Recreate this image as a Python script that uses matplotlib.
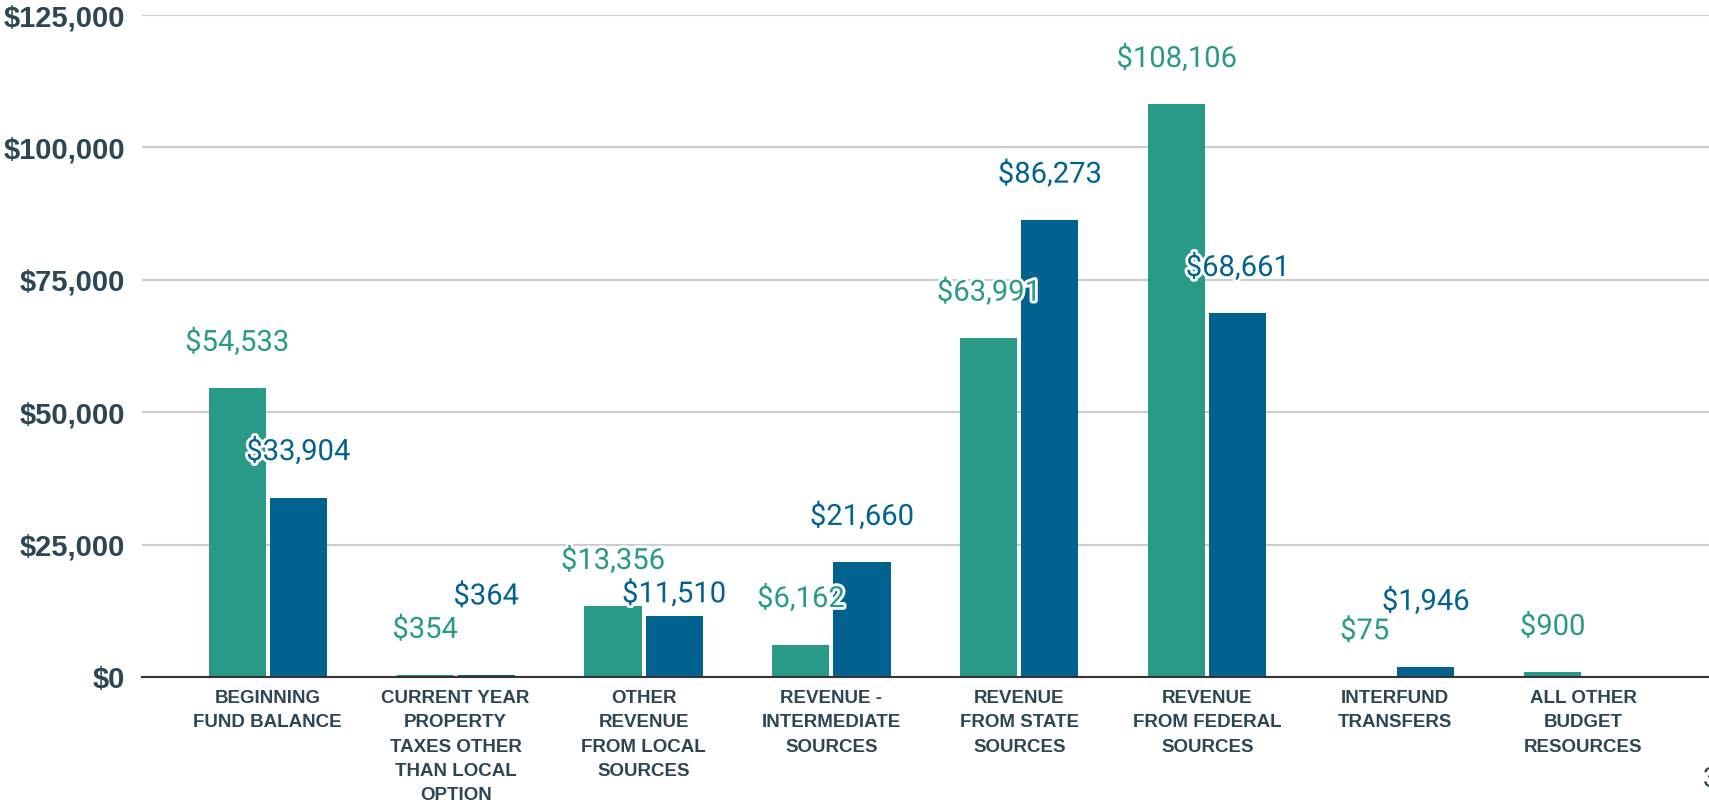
import matplotlib.pyplot as plt
import matplotlib.patheffects as pe
import numpy as np
from matplotlib.ticker import FuncFormatter

categories = [
    "BEGINNING\nFUND BALANCE",
    "CURRENT YEAR\nPROPERTY\nTAXES OTHER\nTHAN LOCAL\nOPTION",
    "OTHER\nREVENUE\nFROM LOCAL\nSOURCES",
    "REVENUE -\nINTERMEDIATE\nSOURCES",
    "REVENUE\nFROM STATE\nSOURCES",
    "REVENUE\nFROM FEDERAL\nSOURCES",
    "INTERFUND\nTRANSFERS",
    "ALL OTHER\nBUDGET\nRESOURCES",
]
series_a = [54533, 354, 13356, 6162, 63991, 108106, 75, 900]
series_b = [33904, 364, 11510, 21660, 86273, 68661, 1946, np.nan]

teal = "#2a9a88"
blue = "#02628f"
slate = "#2d4654"

# label nudges (points) where the labels would collide
nudge = {(1, 1): 24, (1, 2): -17, (1, 6): 14}

fig = plt.figure(figsize=(17.09, 8.11), dpi=100)
ax = fig.add_axes([0.083, 0.165, 0.917, 0.8165])

x = np.arange(len(categories))
w = 0.304
off = 0.1625

for si, (vals, color, shift) in enumerate([(series_a, teal, -off), (series_b, blue, off)]):
    vals = np.array(vals, dtype=float)
    ax.bar(x + shift, np.nan_to_num(vals), width=w, color=color, zorder=2)
    for i, (xi, v) in enumerate(zip(x + shift, vals)):
        if np.isnan(v):
            continue
        dy = 27 + nudge.get((si, i), 0)
        ax.annotate(f"${v:,.0f}", (xi, v), xytext=(0, dy), textcoords="offset points",
                    ha="center", va="baseline", fontsize=21, family="Roboto",
                    color=color, zorder=3,
                    path_effects=[pe.withStroke(linewidth=4, foreground="white")])

ax.set_xlim(-0.67, 7.67)
ax.set_ylim(0, 125000)
ax.set_yticks(np.arange(0, 125001, 25000))
ax.yaxis.set_major_formatter(FuncFormatter(lambda v, p: f"${v:,.0f}"))
ax.grid(axis="y", color="#cccccc", linewidth=1.5, zorder=0)
ax.set_axisbelow(True)

ax.set_xticks(x)
ax.set_xticklabels(categories, fontsize=13.5, fontweight="bold",
                   family="Liberation Sans", color=slate, linespacing=1.57)
for lbl in ax.get_yticklabels():
    lbl.set_family("Liberation Sans")
    lbl.set_fontweight("bold")
    lbl.set_fontsize(21)
    lbl.set_color(slate)
ax.tick_params(axis="x", length=0, pad=9)
ax.tick_params(axis="y", length=0, pad=12)

for s in ["top", "right", "left"]:
    ax.spines[s].set_visible(False)
ax.spines["bottom"].set_color("#333333")
ax.spines["bottom"].set_linewidth(1.5)
ax.spines["bottom"].set_zorder(4)

fig.text(1703 / 1709, 0.022, "3", fontsize=20, color=slate, family="Roboto",
         ha="left", va="bottom")

fig.savefig("out.png", dpi=100)
